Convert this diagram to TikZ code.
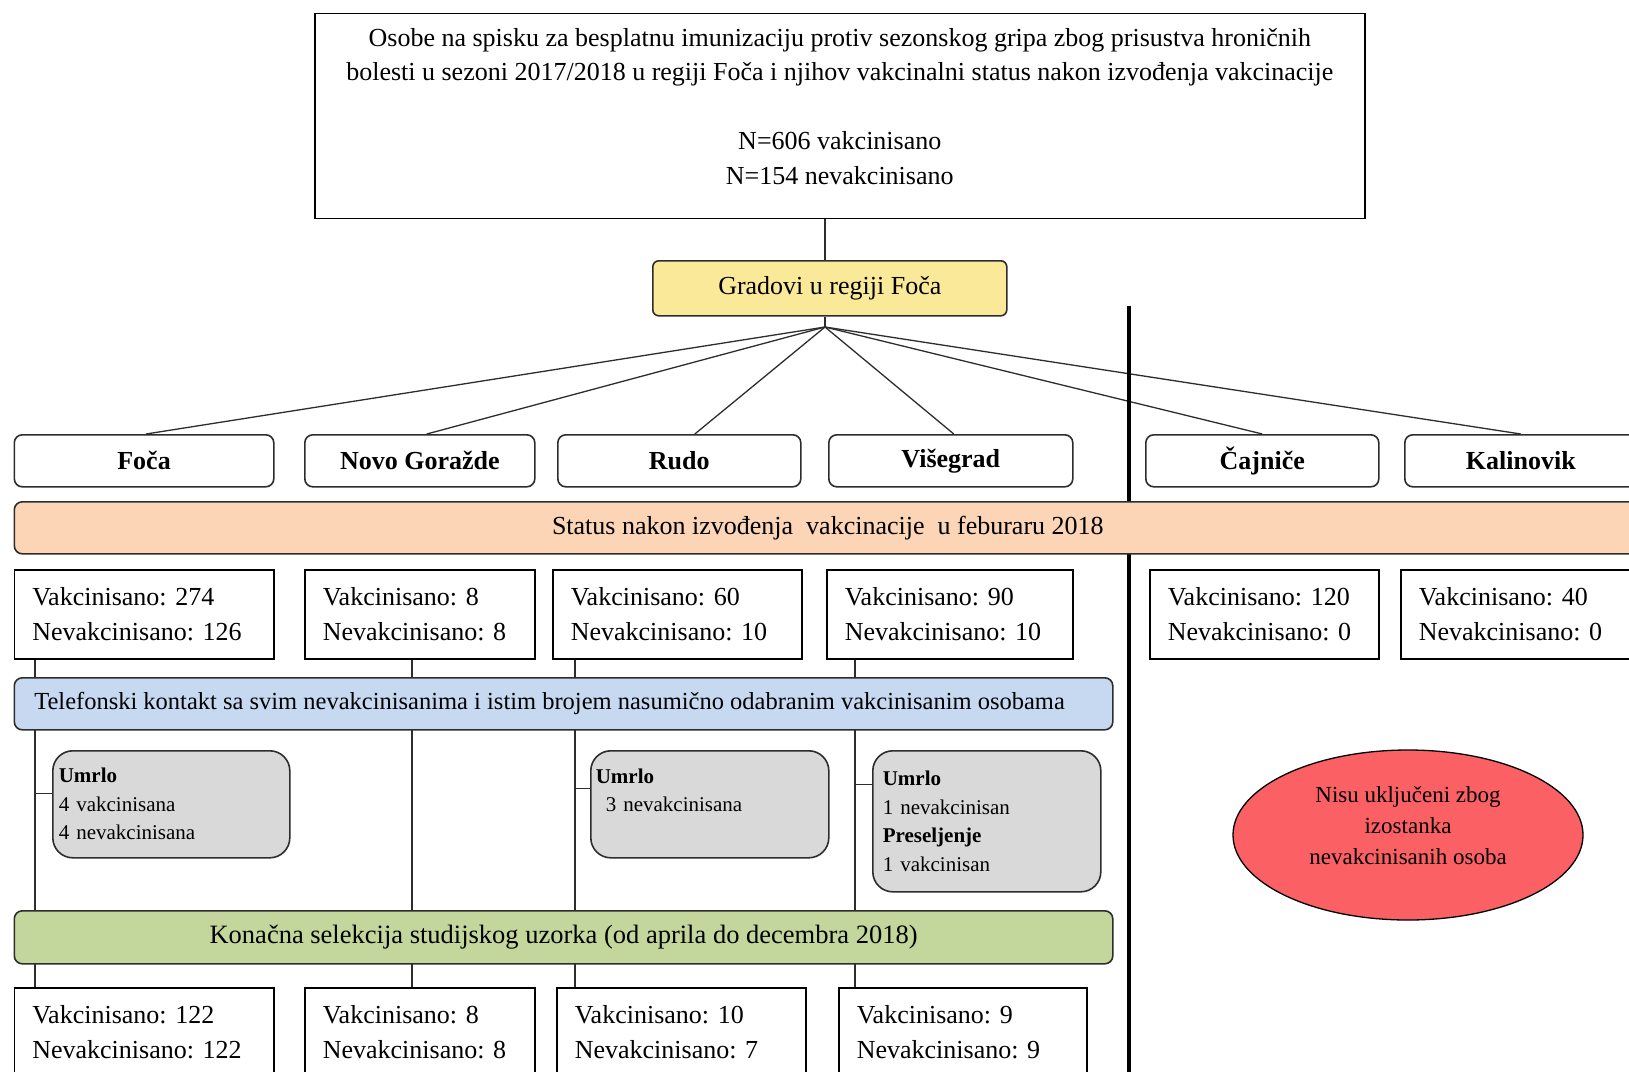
\documentclass[tikz,border=0pt]{standalone}
\usepackage{fontspec}
\setmainfont{Liberation Serif}
\usetikzlibrary{shapes.geometric,backgrounds}
\newcommand\setfs[2]{\fontsize{#1}{#2}\selectfont}
\frenchspacing

\definecolor{edge}{RGB}{45,45,45}
\definecolor{gradfill}{RGB}{250,233,153}
\definecolor{statusfill}{RGB}{251,213,181}
\definecolor{phonefill}{RGB}{198,217,241}
\definecolor{finalfill}{RGB}{195,214,155}
\definecolor{lossfill}{RGB}{217,217,217}
\definecolor{excludefill}{RGB}{250,96,100}

\begin{document}
\begin{tikzpicture}[x=1pt,y=-1pt,
  plainbox/.style={draw=black, line width=1.6pt, fill=white, anchor=north west, inner sep=0pt},
  countbox/.style={plainbox, align=left, inner xsep=18pt, inner ysep=0pt,
    text width=#1-36pt, minimum height=89pt, font=\setfs{26}{34.5}},
  citybox/.style={draw=edge, line width=1.6pt, rounded corners=8pt, fill=white,
    anchor=north west, inner sep=0pt, minimum width=#1, minimum height=52pt,
    font=\setfs{26}{30}\bfseries},
  bar/.style={draw=edge, line width=1.6pt, rounded corners=8pt, anchor=north west,
    inner sep=0pt, minimum height=52pt, font=\setfs{26}{30}},
  lossbox/.style 2 args={draw=edge, line width=1.6pt, rounded corners=20pt, fill=lossfill,
    anchor=north west, align=left, inner ysep=0pt, inner xsep=#2,
    text width=#1-2*#2, font=\setfs{21}{28.5}},
  link/.style={draw=edge, line width=1.3pt}
]
\useasboundingbox (0,0) rectangle (1629,1071);

% source population (the zero-width rule lifts the text block a little)
\node[plainbox, minimum width=1050pt, minimum height=205pt, align=center,
      font=\setfs{26}{34.5}] (source) at (314,12.5)
  {Osobe na spisku za besplatnu imunizaciju protiv sezonskog gripa zbog prisustva hroničnih\\
   bolesti u sezoni 2017/2018 u regiji Foča i njihov vakcinalni status nakon izvođenja vakcinacije\\[34.5pt]
   N=606 vakcinisano\\N=154 nevakcinisano\rule[-19pt]{0pt}{19pt}};

\node[draw=edge, line width=1.6pt, rounded corners=6pt, fill=gradfill, anchor=north west,
      minimum width=354pt, minimum height=55pt, inner sep=0pt, font=\setfs{26}{30}]
  (cities) at (652,260) {Gradovi u regiji Foča};
\coordinate (hub) at (825,327);

% towns
\node[citybox=259.5pt] (foca) at (13.5,434) {Foča};
\node[citybox=230pt]   (novo) at (304,434)  {Novo Goražde};
\node[citybox=243pt]   (rudo) at (557,434)  {Rudo};
\node[citybox=244pt]   (vise) at (828,434)  {Višegrad};
\node[citybox=233pt]   (cajn) at (1145,434) {Čajniče};
\node[citybox=232pt]   (kali) at (1404,434) {Kalinovik};

\node[bar, fill=statusfill, minimum width=1627pt] (status) at (13.5,501)
  {Status nakon izvođenja~ vakcinacije~ u feburaru 2018};

% status after vaccination
\node[countbox=259.5pt] (c1) at (13.5,569) {Vakcinisano: 274\\Nevakcinisano: 126};
\node[countbox=230pt]   (c2) at (304,569)  {Vakcinisano: 8\\Nevakcinisano: 8};
\node[countbox=249pt]   (c3) at (552,569)  {Vakcinisano: 60\\Nevakcinisano: 10};
\node[countbox=246pt]   (c4) at (826,569)  {Vakcinisano: 90\\Nevakcinisano: 10};
\node[countbox=229pt]   (c5) at (1149,569) {Vakcinisano: 120\\Nevakcinisano: 0};
\node[countbox=240pt]   (c6) at (1400,569) {Vakcinisano: 40\\Nevakcinisano: 0};

\node[bar, fill=phonefill, minimum width=1098.5pt, inner xsep=20pt, font=\setfs{24.5}{30}] (phone) at (13.5,677)
  {\makebox[1058.5pt][l]{Telefonski kontakt sa svim nevakcinisanima i istim brojem nasumično odabranim vakcinisanim osobama}};

% losses
\node[lossbox={237pt}{6pt}, minimum height=107pt] (loss1) at (52,750)
  {\textbf{Umrlo}\\4 vakcinisana\\4 nevakcinisana};
\node[lossbox={238pt}{5pt}, minimum height=107pt] (loss2) at (590,750)
  {\textbf{Umrlo}\\\hspace*{10pt}3 nevakcinisana\\\mbox{}};
\node[lossbox={228pt}{10pt}, minimum height=141pt] (loss3) at (872,750)
  {\textbf{Umrlo}\\1 nevakcinisan\\\textbf{Preseljenje}\\1 vakcinisan};

\node[bar, fill=finalfill, minimum width=1098.5pt, minimum height=53pt, font=\setfs{26.5}{30}] (final) at (13.5,910)
  {Konačna selekcija studijskog uzorka (od aprila do decembra 2018)};

% final sample
\node[countbox=259.5pt] (b1) at (13.5,987) {Vakcinisano: 122\\Nevakcinisano: 122};
\node[countbox=230pt]   (b2) at (304,987)  {Vakcinisano: 8\\Nevakcinisano: 8};
\node[countbox=249pt]   (b3) at (556,987)  {Vakcinisano: 10\\Nevakcinisano: 7};
\node[countbox=248pt]   (b4) at (838,987)  {Vakcinisano: 9\\Nevakcinisano: 9};

\node[ellipse, draw=black, line width=1.3pt, fill=excludefill, minimum width=350pt,
      minimum height=170pt, inner sep=0pt, align=center, font=\setfs{23}{31}]
  (excl) at (1408,835) {Nisu uključeni zbog\\izostanka\\nevakcinisanih osoba\rule[-20pt]{0pt}{20pt}};

\coordinate (xF) at (35,0);
\coordinate (xN) at (412,0);
\coordinate (xR) at (575,0);
\coordinate (xV) at (855,0);
\coordinate (s1) at ([yshift=10.5pt]loss1.west);
\coordinate (s2) at ([yshift=15.5pt]loss2.west);
\coordinate (s3) at ([yshift=37pt]loss3.west);
\coordinate (divtop) at (1129,306);
\coordinate (divbot) at (1129,1075);

\begin{pgfonlayer}{background}
  \draw[link] (source.south -| hub) -- (cities.north -| hub);
  \draw[link] (cities.south -| hub) -- (hub);
  \draw[link] (hub) -- ([xshift=2pt]foca.north);
  \draw[link] (hub) -- ([xshift=7pt]novo.north);
  \draw[link] (hub) -- ([xshift=15.5pt]rudo.north);
  \draw[link] (hub) -- ([xshift=3pt]vise.north);
  \draw[link] (hub) -- (cajn.north);
  \draw[link] (hub) -- (kali.north);
  \draw[line width=4.5pt] (divtop) -- (divbot);
  \draw[link] (c1.south -| xF) -- (b1.north -| xF);
  \draw[link] (c2.south -| xN) -- (b2.north -| xN);
  \draw[link] (c3.south -| xR) -- (b3.north -| xR);
  \draw[link] (c4.south -| xV) -- (b4.north -| xV);
  \draw[link] (s1 -| xF) -- (s1);
  \draw[link] (s2 -| xR) -- (s2);
  \draw[link] (s3 -| xV) -- (s3);
\end{pgfonlayer}
\end{tikzpicture}
\end{document}
